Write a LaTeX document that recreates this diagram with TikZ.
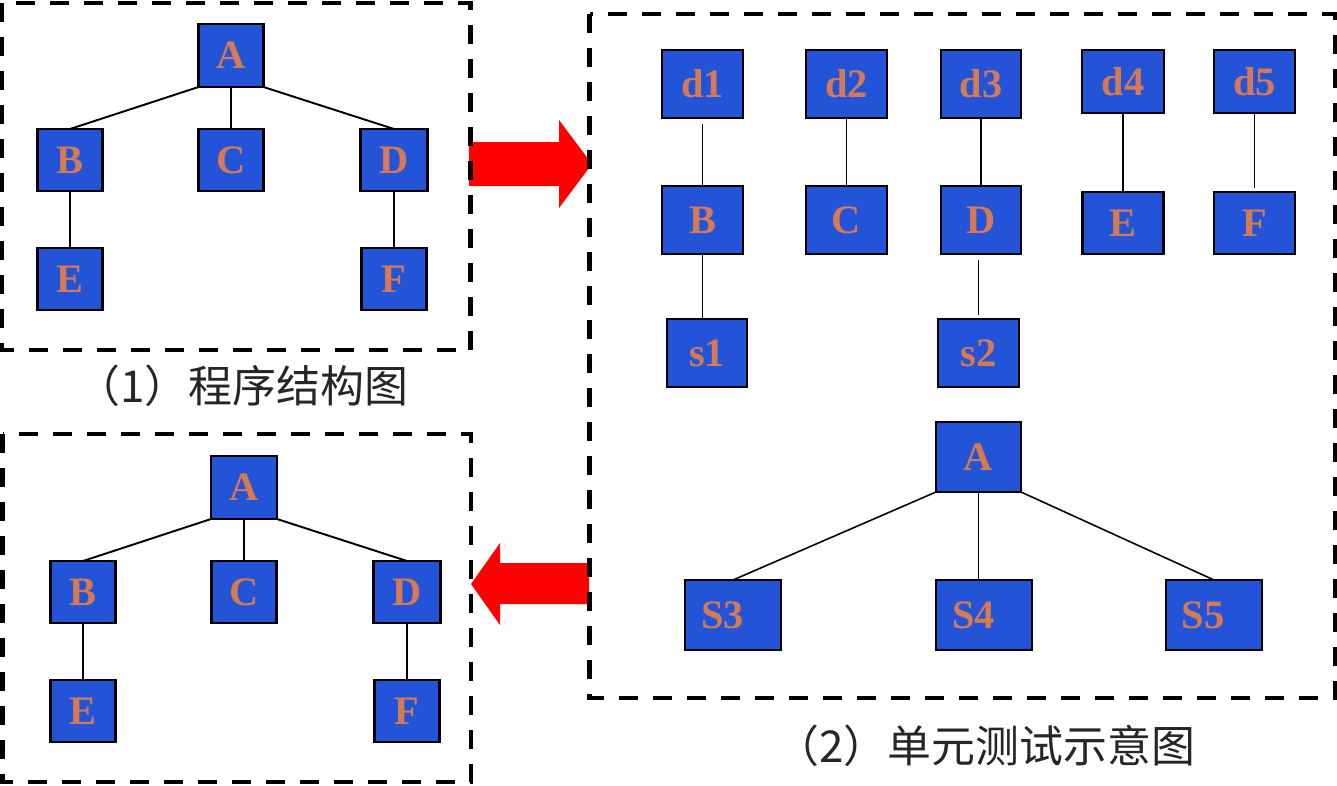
\documentclass[tikz,border=0pt]{standalone}
\usepackage{fontspec}
\setmainfont{Liberation Serif}
\newfontfamily\cjk{Noto Sans CJK SC}
\usepackage{tikz}
\usetikzlibrary{positioning}

\definecolor{boxblue}{RGB}{35,84,216}
\definecolor{labelorange}{RGB}{214,122,84}

\begin{document}
\begin{tikzpicture}[
    x=0.02cm, y=-0.02cm,
    every node/.style={font=\bfseries\fontsize{23}{23}\selectfont},
    box/.style={draw, fill=boxblue, text=labelorange, line width=1.4pt, inner sep=0pt, outer sep=0pt, minimum width=1.3cm, minimum height=1.24cm},
    dbox/.style={box, minimum width=1.62cm, minimum height=1.36cm},
    sbox/.style={box, minimum height=1.4cm, inner xsep=0.32cm, text width=1.28cm, align=left},
    frame/.style={line width=2.5pt, dash pattern=on 0.38cm off 0.3cm},
    edge/.style={line width=1.1pt},
    fatarrow/.style={fill=red},
    caption/.style={font=\cjk\fontsize{25}{25}\selectfont, text=black!85}
]
\useasboundingbox (0,0) rectangle (1337,785);
% ----- (1) program structure, top left -----
\node[box, minimum height=1.26cm] (pA) at (231,55.5) {A};
\node[box, below=0.84cm of pA] (pC) {C};
\node[box, left=1.92cm of pC] (pB) {B};
\node[box, right=1.94cm of pC, minimum width=1.34cm] (pD) {D};
\node[box, below=1.14cm of pB] (pE) {E};
\node[box, below=1.14cm of pD] (pF) {F};
\draw[edge] (pA.south west) -- (pB.north);
\draw[edge] (pA) -- (pC);
\draw[edge] (pA.south east) -- (pD.north);
\draw[edge] (pB) -- (pE);
\draw[edge] (pD) -- (pF);
\node[caption] (cap1) at (242,386) {（1）程序结构图};
% ----- (2) unit tests, right -----
\node[dbox] (d1) at (702.5,84) {d1};
\node[dbox, right=1.26cm of d1] (d2) {d2};
\node[dbox, right=1.08cm of d2, minimum width=1.6cm] (d3) {d3};
\node[dbox, minimum width=1.64cm, minimum height=1.26cm, right=1.22cm of d3.north east, anchor=north west] (d4) {d4};
\node[dbox, minimum height=1.26cm, right=1.0cm of d4] (d5) {d5};
\node[dbox, below=1.36cm of d1] (rB) {B};
\node[dbox, below=1.36cm of d2] (rC) {C};
\node[dbox, below=1.36cm of d3, minimum width=1.6cm] (rD) {D};
\node[dbox, minimum height=1.24cm, below=1.58cm of d4] (rE) {E};
\node[dbox, minimum height=1.24cm, below=1.58cm of d5] (rF) {F};
\node[dbox, minimum width=1.6cm, below=1.3cm of rB, xshift=0.09cm] (s1) {s1};
\node[dbox, below=1.3cm of rD, xshift=-0.05cm] (s2) {s2};
\draw[edge, line width=0.9pt, shorten <=0.12cm] (d1) -- (rB);
\draw[edge, line width=0.9pt] (d2) -- (rC);
\draw[edge, line width=0.9pt] (d3) -- (rD);
\draw[edge, line width=0.9pt] (d4) -- (rE);
\draw[edge, line width=0.9pt, shorten >=0.08cm] (d5) -- (rF);
\draw[edge, line width=0.9pt] (rB.south) -- (rB.south |- s1.north);
\draw[edge, line width=0.9pt, shorten <=0.12cm, shorten >=0.08cm] (rD.south -| s2.north) -- (s2.north);
% driver A with stubs S3..S5
\node[box, minimum width=1.7cm, minimum height=1.4cm] (rA) at (978.5,457) {A};
\node[sbox, below=1.76cm of rA, xshift=0.11cm] (S4) {S4};
\node[sbox, left=3.1cm of S4] (S3) {S3};
\node[sbox, right=2.68cm of S4] (S5) {S5};
\draw[edge, line width=0.9pt] (rA.south west) -- (S3.north);
\draw[edge, line width=0.9pt] (rA) -- (rA |- S4.north);
\draw[edge, line width=0.9pt] (rA.south east) -- (S5.north);
\node[caption] (cap2) at (985.5,746) {（2）单元测试示意图};
% ----- integrated structure, bottom left -----
\node[box, minimum width=1.32cm, minimum height=1.26cm] (qA) at (244,487.5) {A};
\node[box, below=0.84cm of qA] (qC) {C};
\node[box, left=1.92cm of qC] (qB) {B};
\node[box, right=1.94cm of qC, minimum width=1.34cm] (qD) {D};
\node[box, below=1.14cm of qB] (qE) {E};
\node[box, below=1.14cm of qD] (qF) {F};
\draw[edge] (qA.south west) -- (qB.north);
\draw[edge] (qA) -- (qC);
\draw[edge] (qA.south east) -- (qD.north);
\draw[edge] (qB) -- (qE);
\draw[edge] (qD) -- (qF);
% ----- red arrows -----
\fill[fatarrow] (469,142) -- (559,142) -- (559,120) -- (592,164) -- (559,208) -- (559,186) -- (469,186) -- cycle;
\fill[fatarrow] (589,563) -- (500,563) -- (500,543) -- (471,584) -- (500,625) -- (500,604) -- (589,604) -- cycle;
% ----- dashed frames -----
\draw[frame] (2,3) rectangle (470.5,350);
\draw[frame] (589.5,14) rectangle (1335,698);
\draw[frame] (2.5,434) rectangle (471,782);
\end{tikzpicture}
\end{document}
